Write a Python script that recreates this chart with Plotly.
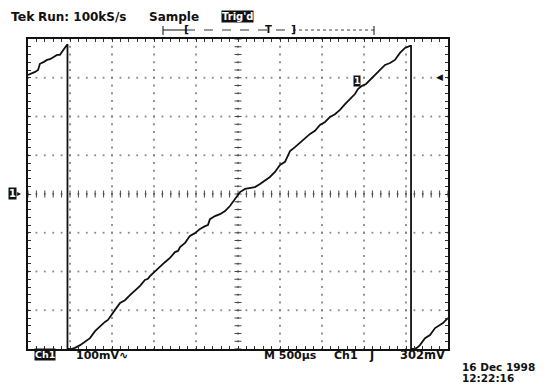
import plotly.graph_objects as go

# ---------------- data (read from the screen capture) ----------------
# time in microseconds (M 500us/div, screen centre = 0), voltage in mV (100 mV/div)
t_us = [-2500, -2464, -2416, -2380, -2358, -2310, -2274, -2238, -2190, -2154,
        -2120, -2096, -2072, -2060, -2036, -2030, -2030,
        -1988, -1940, -1880, -1822, -1762, -1702, -1642, -1584, -1548, -1524, -1464, -1404,
        -1346, -1286, -1226, -1166, -1108, -1072, -1048, -988, -928, -870, -810, -750,
        -714, -690, -630, -572, -512, -452, -392, -358, -334, -274, -214, -154,
        -96, -36, 0, 24, 84, 142, 202, 262, 322, 380, 440, 500, 560, 620, 678,
        738, 798, 858, 916, 976, 1036, 1096, 1154, 1214, 1274, 1334, 1392, 1428, 1476,
        1524, 1572, 1630, 1690, 1750, 1810, 1868, 1928, 1988, 2048, 2060, 2060,
        2096, 2130, 2166, 2226, 2286, 2346, 2404, 2440, 2500]
v_mV = [307, 310, 315, 320, 336, 341, 346, 348, 354, 359,
        359, 367, 372, 379, 385, 385, -400,
        -400, -397, -390, -382, -372, -354, -341, -330, -325, -317, -299, -281,
        -274, -261, -250, -237, -222, -219, -212, -199, -186, -176, -165, -150,
        -147, -137, -126, -108, -101, -90, -83, -80, -65, -57, -52, -44,
        -31, -13, -3, 5, 13, 15, 18, 26, 34, 44, 57, 75, 83, 111, 121,
        132, 142, 155, 163, 178, 186, 199, 206, 217, 232, 245, 258, 271, 279,
        284, 294, 307, 320, 333, 338, 346, 364, 377, 382, 382, -400,
        -400, -397, -390, -372, -364, -346, -338, -333, -320]

time_per_div_us = 500
volts_per_div_mV = 100
n_xdiv = 10
n_ydiv = 8
minor_per_div = 5
trigger_level_mV = 302

top_labels = ["Tek", "Run: 100kS/s", "Sample", "Trig'd"]
bottom_labels = ["Ch1", "100mV\u223f", "M 500\u00b5s", "Ch1", "\u0283", "302mV"]
date_labels = ["16 Dec 1998", "12:22:16"]

# ---------------- layout geometry ----------------
W, H = 552, 385
L, R, T, B = 28, 448, 39, 349
xhalf = time_per_div_us * n_xdiv / 2
yhalf = volts_per_div_mV * n_ydiv / 2


def px(x):
    return (x - L) / (R - L)


def py(y):
    return (B - y) / (B - T)


FONT = "DejaVu Sans"
fig = go.Figure()

# dotted graticule (dots at every minor step along each major line)
gx, gy = [], []
xstep = time_per_div_us / minor_per_div
ystep = volts_per_div_mV / minor_per_div
for i in range(-n_xdiv // 2 + 1, n_xdiv // 2):
    for j in range(-n_ydiv // 2 * minor_per_div, n_ydiv // 2 * minor_per_div + 1):
        gx.append(i * time_per_div_us)
        gy.append(j * ystep)
for i in range(-n_ydiv // 2 + 1, n_ydiv // 2):
    for j in range(-n_xdiv // 2 * minor_per_div, n_xdiv // 2 * minor_per_div + 1):
        gx.append(j * xstep)
        gy.append(i * volts_per_div_mV)
fig.add_trace(go.Scatter(x=gx, y=gy, mode="markers",
                         marker=dict(size=1.8, color="#888", symbol="square"),
                         hoverinfo="skip", showlegend=False))

# centre cross ticks
cx = [j * xstep for j in range(-n_xdiv // 2 * minor_per_div, n_xdiv // 2 * minor_per_div + 1)]
cy = [j * ystep for j in range(-n_ydiv // 2 * minor_per_div, n_ydiv // 2 * minor_per_div + 1)]
fig.add_trace(go.Scatter(x=cx, y=[0] * len(cx), mode="markers",
                         marker=dict(size=5, symbol="line-ns", line=dict(width=1, color="#444")),
                         hoverinfo="skip", showlegend=False))
fig.add_trace(go.Scatter(x=[0] * len(cy), y=cy, mode="markers",
                         marker=dict(size=5, symbol="line-ew", line=dict(width=1, color="#444")),
                         hoverinfo="skip", showlegend=False))

# waveform
fig.add_trace(go.Scatter(x=t_us, y=v_mV, mode="lines",
                         line=dict(color="#111", width=1.8),
                         hoverinfo="skip", showlegend=False))

axis_common = dict(showgrid=False, zeroline=False, showticklabels=False,
                   showline=True, linecolor="#111", linewidth=1.6,
                   ticks="inside", ticklen=3, tickcolor="#333", tickwidth=1,
                   mirror="ticks", fixedrange=True)
fig.update_xaxes(range=[-xhalf, xhalf], dtick=xstep, tick0=0, **axis_common)
fig.update_yaxes(range=[-yhalf, yhalf], dtick=ystep, tick0=0, **axis_common)

ann = []


def text(x, y, s, size=12, color="#111", anchor="left", bg=None, weight="bold"):
    d = dict(x=px(x), y=py(y), xref="paper", yref="paper", text=s, showarrow=False,
             xanchor=anchor, yanchor="middle",
             font=dict(family=FONT, size=size, color=color, weight=weight))
    if bg:
        d.update(bgcolor=bg, borderpad=0)
    ann.append(d)


# top status line
text(9, 17, top_labels[0], 12.5)
text(36, 17, top_labels[1], 12)
text(147, 17, top_labels[2], 12)
text(237, 17, top_labels[3], 10, color="white", anchor="center", bg="#111")

# record bar
shapes = []
ybar = py(30)
shapes.append(dict(type="line", xref="paper", yref="paper", x0=px(163), x1=px(186),
                   y0=ybar, y1=ybar, line=dict(color="#111", width=1)))
shapes.append(dict(type="line", xref="paper", yref="paper", x0=px(186), x1=px(293),
                   y0=ybar, y1=ybar, line=dict(color="#333", width=1, dash="dash")))
shapes.append(dict(type="line", xref="paper", yref="paper", x0=px(293), x1=px(374),
                   y0=ybar, y1=ybar, line=dict(color="#444", width=1, dash="dot")))
for xe in (163, 374):
    shapes.append(dict(type="line", xref="paper", yref="paper", x0=px(xe), x1=px(xe),
                       y0=py(26), y1=py(35), line=dict(color="#111", width=1)))
text(186, 30, "[", 11, anchor="center")
text(268, 30, "T", 10, anchor="center")
text(293, 30, "]", 11, anchor="center")

# bottom status line
text(44.5, 354, bottom_labels[0], 9.5, color="white", anchor="center", bg="#111")
text(74, 355, bottom_labels[1], 11)
text(262, 355, bottom_labels[2], 11)
text(332, 355, bottom_labels[3], 11)
text(372, 355, bottom_labels[4], 12, anchor="center")
text(398, 355, bottom_labels[5], 11.5)

# date / time
text(460, 367, date_labels[0], 10.5)
text(460, 378, date_labels[1], 10.5)

# channel ground marker (left)
text(12, 193, "1", 10, color="white", anchor="center", bg="#111")
text(19, 193, "\u25b8", 8, anchor="center")

# trigger level arrow (right)
ann.append(dict(x=xhalf * 0.985, y=trigger_level_mV, xref="x", yref="y", text="\u25c0",
                showarrow=False, xanchor="right", yanchor="middle",
                font=dict(family=FONT, size=9, color="#111")))

# waveform channel marker
ann.append(dict(x=1416, y=292, xref="x", yref="y", text="1", showarrow=False,
                xanchor="center", yanchor="middle", bgcolor="#111", borderpad=0,
                font=dict(family=FONT, size=9, color="white", weight="bold")))

fig.update_layout(width=W, height=H,
                  margin=dict(l=L, r=W - R, t=T, b=H - B, pad=0),
                  paper_bgcolor="white", plot_bgcolor="white",
                  annotations=ann, shapes=shapes, showlegend=False)

fig.write_html("out.html", config={"displayModeBar": False},
               post_script="document.body.style.margin='0';document.body.style.padding='0';")
